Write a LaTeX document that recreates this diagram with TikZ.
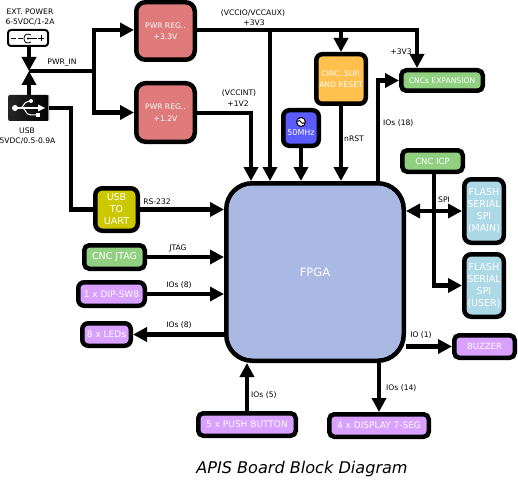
\documentclass[tikz,border=0pt]{standalone}
\usepackage{fontspec}
\setmainfont{DejaVu Sans}
\usetikzlibrary{arrows.meta,calc}
\tikzset{
 blk/.style n args={4}{draw=black,line width=4.5pt,rounded corners=#4pt,fill=#3,
   minimum width={(#1-4.5)*1pt},minimum height={(#2-4.5)*1pt},inner sep=0pt,align=center,text=white},
 wire/.style={draw=black,line width=4.4pt,line join=miter},
 arr/.style={wire,-{Triangle[length=14pt,width=14pt]}},
 arrs/.style={wire,{Triangle[length=14pt,width=14pt]}-{Triangle[length=14pt,width=14pt]}},
 lab/.style={inner sep=0pt,font=\fontsize{7.6}{10}\selectfont,text=black,align=center},
 labl/.style={lab,anchor=west},
 tx/.style={font=\fontsize{7.6}{11.5}\selectfont},
 tb/.style={font=\fontsize{9}{12}\selectfont},
 tm/.style={font=\fontsize{9.5}{12}\selectfont}
}
\definecolor{cred}{HTML}{DF7A7A}
\definecolor{corange}{HTML}{FFC04D}
\definecolor{cblue}{HTML}{5B5BFF}
\definecolor{cfpga}{HTML}{AAB8E4}
\definecolor{cgreen}{HTML}{90D080}
\definecolor{clight}{HTML}{ADD8E6}
\definecolor{cpurple}{HTML}{D8A0FF}
\definecolor{cyell}{HTML}{CCC800}
\begin{document}
\begin{tikzpicture}[x=1pt,y=-1pt]
\fill[white] (0,0) rectangle (518,481);
\useasboundingbox (0,0) rectangle (518,481);
% blocks
\node[blk={63}{62}{cred}{9},tx] (reg33) at (165.5,31) {PWR REG..\\+3.3V};
\node[blk={63}{63}{cred}{9},tx] (reg12) at (165.5,112.5) {PWR REG..\\+1.2V};
\node[blk={54}{54}{corange}{6},tx] (circ) at (341,79) {CIRC. SUP.\\AND RESET};
\node[blk={40}{40}{cblue}{6}] (osc) at (301,128) {};
\node[lab,text=white,font=\fontsize{8}{10}\selectfont] (osctext) at (301,133) {50MHz};
\node[blk={182}{182}{cfpga}{26},font=\fontsize{11.5}{12}\selectfont] (fpga) at (315,272) {FPGA};
\node[blk={86}{25}{cgreen}{5},tx] (exp) at (442,80.5) {CNCs EXPANSION};
\node[blk={65}{26}{cgreen}{5},font=\fontsize{8.5}{12}\selectfont] (icp) at (432.5,161) {CNC ICP};
\node[blk={44}{68}{clight}{7},tm] (flash1) at (484,211) {FLASH\\SERIAL\\SPI\\(MAIN)};
\node[blk={44}{67}{clight}{7},tm] (flash2) at (484,285.5) {FLASH\\SERIAL\\SPI\\(USER)};
\node[blk={65}{27}{cpurple}{5},font=\fontsize{8.5}{12}\selectfont] (buzzer) at (484.5,346.5) {BUZZER};
\node[blk={104}{27}{cpurple}{5},tb] (disp) at (379,425.5) {4 x DISPLAY 7-SEG};
\node[blk={102}{27}{cpurple}{5},tb] (push) at (247,424.5) {5 x PUSH BUTTON};
\node[blk={47}{47}{cyell}{7},tm] (uart) at (116.5,209.5) {USB\\TO\\UART};
\node[blk={65}{28}{cgreen}{5},tm] (jtag) at (114.5,257) {CNC JTAG};
\node[blk={71}{28}{cpurple}{6},tb] (dip) at (111.5,294) {1 x DIP-SW8};
\node[blk={53}{27}{cpurple}{6},tb] (leds) at (106.5,334.5) {8 x LEDs};
% power jack
\node[draw=black,line width=2pt,fill=white,rounded corners=3pt,minimum width=40pt,minimum height=16pt,inner sep=0pt] (jack) at (28,38) {};
\draw[line width=1pt] (11,38.5) -- (16,38.5) (18,38.5) -- (23,38.5) (33,38.5) -- (37,38.5) (38,38.5) -- (44,38.5) (41,35.5) -- (41,41.5);
\draw[line width=.8pt] (31,35) .. controls (27,32.5) and (24,35) .. (24,38.5) .. controls (24,42) and (27,44.5) .. (31,42);
\fill (28,38.5) circle (1.2);
\draw[line width=.8pt] (28,38.5) -- (33,38.5);
% usb icon
\node[draw=none,rounded corners=2pt,left color=black!85,right color=black,minimum width=41pt,minimum height=26pt,inner sep=0pt] (usb) at (28.5,108) {};
\fill[black!45] (47.7,95.5) rectangle (49,120.5);
\begin{scope}[white]
\fill (15,108) circle (3);
\fill (45,108) -- (38,104.5) -- (38,111.5) -- cycle;
\draw[line width=1.2pt] (15,108) -- (40,108);
\draw[line width=1pt] (20,108) .. controls (24,108) and (23,102) .. (28,101.5) -- (31,101.5);
\draw[line width=1pt] (22,108) .. controls (26,108) and (25,115) .. (31,115) -- (36,115);
\fill (31,101) circle (2);
\fill (36,113) rectangle (40,117);
\end{scope}
% texts
\node[lab] (t1) at (30,12) {EXT. POWER};
\node[lab] (t2) at (30,22) {6-5VDC/1-2A};
\node[lab] (t3) at (27,131) {USB};
\node[lab] (t4) at (27.5,141) {5VDC/0.5-0.9A};
\node[lab] (t5) at (62,63) {PWR\_IN};
\node[lab] (t6) at (253,13) {(VCCIO/VCCAUX)};
\node[lab] (t7) at (254,23) {+3V3};
\node[lab] (t8) at (239,93) {(VCCINT)};
\node[lab] (t9) at (238,104) {+1V2};
\node[lab] (t10) at (401,52) {+3V3};
\node[labl] (t11) at (344,139) {nRST};
\node[labl] (t12) at (383,123) {IOs (18)};
\node[lab] (t13) at (444,200) {SPI};
\node[lab] (t14) at (157,202) {RS-232};
\node[lab] (t15) at (178,248) {JTAG};
\node[lab] (t16) at (179,285) {IOs (8)};
\node[lab] (t17) at (179,325) {IOs (8)};
\node[lab] (t18) at (421,335) {IO (1)};
\node[labl] (t19) at (386,388) {IOs (14)};
\node[labl] (t20) at (251,395) {IOs (5)};
\node[inner sep=0pt,font=\fontsize{16.1}{18}\selectfont\itshape] (title) at (302,469) {APIS Board Block Diagram};
% oscillator icon
\node[draw=black,line width=1pt,fill=white,circle,minimum size=9pt,inner sep=0pt] (oscicon) at (301,122) {};
\draw[line width=.8pt] (297.5,122) .. controls (299,119.5) and (300,120) .. (301,122) .. controls (302,124) and (303,124.5) .. (304.5,122);
% coordinates
\coordinate (jn) at (29,71);
\coordinate (split) at (94,71);
\coordinate (top3) at (94,30);
\coordinate (bot3) at (94,112.5);
\coordinate (v1) at (417,30);
\coordinate (v2) at (341,30);
\coordinate (v3) at (270,30);
\coordinate (c12) at (251,113);
\coordinate (usbc) at (71,108);
\coordinate (usbd) at (71,209.5);
\coordinate (io18a) at (378,181);
\coordinate (io18b) at (378,80.5);
\coordinate (icpd) at (434,285.5);
\coordinate (icpt) at (434,174);
% connectors
\draw[wire] (jn) -- (split);
\draw[arr] (jack.south -| jn) -- (jn);
\draw[arr] (usb.north -| jn) -- (jn);
\draw[arr] (split) -- (top3) -- (reg33.west |- top3);
\draw[arr] (split) -- (bot3) -- (reg12.west |- bot3);
\draw[arr] (reg33.east |- v1) -- (v1) -- (v1 |- exp.north);
\draw[arr] (v2) -- (v2 |- circ.north);
\draw[arr] (v3) -- (v3 |- fpga.north);
\draw[arr] (reg12.east |- c12) -- (c12) -- (c12 |- fpga.north);
\draw[arr] (osc.south) -- (osc.south |- fpga.north);
\draw[arr] (circ.south) -- (circ.south |- fpga.north);
\draw[arr] (io18a) -- (io18b) -- (exp.west |- io18b);
\draw[arrs] (fpga.east |- flash1.west) -- (flash1.west);
\draw[arr] (icpt) -- (icpd) -- (flash2.west |- icpd);
\draw[arr] (fpga.east |- buzzer.west) -- (buzzer.west);
\draw[arr] (fpga.south -| disp.north) -- (disp.north);
\draw[arr] (push.north) -- (push.north |- fpga.south);
\draw[wire] (usb.east |- usbc) -- (usbc) -- (usbd) -- (uart.west |- usbd);
\draw[arr] (uart.east) -- (uart.east -| fpga.west);
\draw[arr] (jtag.east) -- (jtag.east -| fpga.west);
\draw[arr] (dip.east) -- (dip.east -| fpga.west);
\draw[arr] (leds.east -| fpga.west) -- (leds.east);
\end{tikzpicture}
\end{document}
